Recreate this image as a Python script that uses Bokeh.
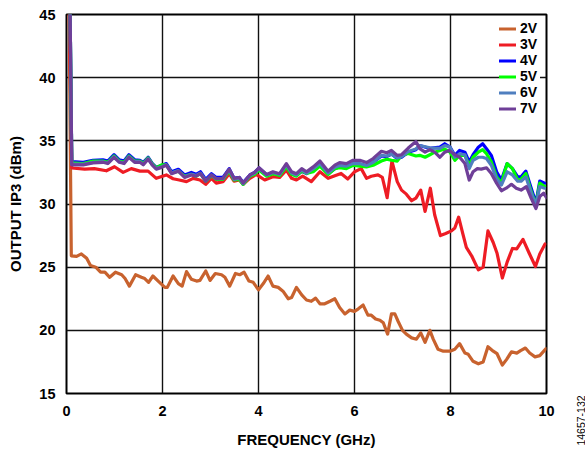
from math import pi
from bokeh.plotting import figure
from bokeh.models import Range1d, FixedTicker, Legend, LegendItem, Label
from bokeh.embed import file_html
from bokeh.resources import INLINE

# ---------------- data ----------------
x_ticks = [0, 2, 4, 6, 8, 10]
y_ticks = [15, 20, 25, 30, 35, 40, 45]
series_names = ["2V", "3V", "4V", "5V", "6V", "7V"]

f_2v = [0.05, 0.1, 0.21, 0.31, 0.42, 0.5, 0.61, 0.71, 0.8, 0.9,
        1.02, 1.15, 1.22, 1.31, 1.44, 1.56, 1.63, 1.71, 1.8, 1.91,
        2.05, 2.1, 2.22, 2.33, 2.41, 2.5, 2.6, 2.71, 2.78, 2.9,
        2.99, 3.1, 3.23, 3.3, 3.4, 3.52, 3.61, 3.7, 3.8, 3.89,
        4.0, 4.1, 4.2, 4.3, 4.41, 4.51, 4.62, 4.69, 4.79, 4.9,
        5.0, 5.1, 5.19, 5.28, 5.38, 5.49, 5.59, 5.69, 5.8, 5.9,
        6.0, 6.08, 6.18, 6.28, 6.35, 6.44, 6.53, 6.6, 6.69, 6.77,
        6.84, 6.91, 7.0, 7.08, 7.19, 7.29, 7.38, 7.47, 7.57, 7.64,
        7.74, 7.85, 7.99, 8.09, 8.19, 8.3, 8.37, 8.47, 8.58, 8.68,
        8.78, 8.89, 8.97, 9.08, 9.17, 9.27, 9.38, 9.46, 9.56, 9.65,
        9.76, 9.86, 9.99]
ip3_2v = [47, 25.9, 25.85, 26.05, 25.7, 25.13, 25.0, 24.6, 24.6, 24.2,
          24.6, 24.4, 24.1, 23.5, 24.4, 24.2, 24.1, 23.8, 24.3, 23.9,
          23.4, 23.4, 24.3, 23.7, 23.5, 24.65, 24.05, 23.9, 23.95, 24.7,
          23.95, 24.5, 24.4, 24.2, 23.5, 24.5, 24.4, 24.6, 23.9, 23.8,
          23.2, 23.7, 24.3, 23.5, 23.4, 23.1, 22.5, 22.6, 23.4, 22.8,
          22.4, 22.3, 22.55, 22.1, 22.1, 22.3, 22.5, 21.8, 21.3, 21.6,
          21.5, 21.7, 22.0, 21.2, 21.2, 20.9, 20.8, 20.6, 19.7, 21.3,
          21.3, 20.7, 20.0, 19.7, 19.4, 19.3, 19.8, 19.05, 20.0, 19.3,
          18.5, 18.35, 18.35, 18.5, 18.95, 18.2, 18.1, 17.55, 17.35, 17.5,
          18.7, 18.35, 18.15, 17.25, 17.7, 18.3, 18.2, 18.4, 18.6, 18.2,
          17.9, 18.0, 18.55]

f_3v = [0.05, 0.11, 0.38, 0.58, 0.83, 1.0, 1.18, 1.35, 1.53, 1.7,
        1.87, 2.08, 2.22, 2.35, 2.5, 2.64, 2.78, 2.9, 3.02, 3.12,
        3.26, 3.39, 3.49, 3.6, 3.68, 3.82, 3.95, 4.13, 4.3, 4.44,
        4.58, 4.69, 4.79, 4.92, 5.1, 5.28, 5.45, 5.59, 5.72, 5.86,
        6.0, 6.14, 6.25, 6.35, 6.49, 6.58, 6.68, 6.78, 6.89, 6.98,
        7.08, 7.19, 7.28, 7.38, 7.47, 7.58, 7.67, 7.79, 7.9, 8.02,
        8.09, 8.17, 8.26, 8.33, 8.44, 8.58, 8.68, 8.78, 8.89, 8.97,
        9.08, 9.18, 9.29, 9.38, 9.51, 9.64, 9.77, 9.86, 9.97]
ip3_3v = [47, 32.85, 32.76, 32.8, 32.63, 32.95, 32.5, 32.8, 32.6, 32.6,
          32.03, 32.3, 32.0, 31.9, 31.77, 32.03, 31.9, 31.56, 32.03, 31.65,
          31.77, 32.4, 31.8, 31.9, 31.56, 32.03, 32.34, 31.9, 32.16, 32.1,
          32.68, 32.03, 31.9, 32.2, 31.77, 32.55, 32.03, 32.24, 32.42, 31.98,
          32.55, 32.8, 32.03, 32.2, 32.3, 32.1, 30.5, 33.4, 31.77, 31.1,
          30.78, 30.26, 30.47, 31.1, 29.41, 31.25, 29.15, 27.5, 27.66, 27.87,
          28.1, 28.96, 27.6, 26.56, 25.9, 24.79, 25.0, 27.87, 26.95, 26.1,
          24.14, 25.4, 26.48, 26.45, 27.2, 26.1, 25.05, 26.04, 26.83]

# shared low-frequency sampling for the 4V..7V traces
f_low = [0.07, 0.11, 0.35, 0.55, 0.76, 0.86, 0.99, 1.1, 1.2, 1.3,
         1.42, 1.53, 1.6, 1.7, 1.79, 1.87, 1.98, 2.08, 2.19, 2.33,
         2.46, 2.6, 2.7, 2.79, 2.9, 3.02, 3.12, 3.26, 3.39, 3.49,
         3.6, 3.68, 3.82, 3.92, 4.01, 4.17, 4.3, 4.44, 4.58, 4.69,
         4.79, 4.9, 5.0, 5.14, 5.28, 5.45, 5.59, 5.69, 5.83, 5.97,
         6.11, 6.25, 6.39, 6.56, 6.67, 6.77, 6.89, 6.98, 7.12, 7.28]

ip3_4v_low = [47, 33.35, 33.3, 33.45, 33.5, 33.4, 33.9, 33.5, 33.4, 33.9,
              33.5, 33.45, 33.3, 33.7, 33.2, 32.9, 33.05, 33.2, 32.55, 32.75,
              32.3, 32.5, 32.35, 32.55, 31.95, 32.4, 32.1, 32.1, 32.8, 32.05,
              32.1, 31.7, 32.3, 32.5, 32.85, 32.3, 32.5, 32.3, 33.0, 32.4,
              32.25, 32.6, 32.4, 32.75, 33.1, 32.4, 32.8, 32.95, 32.9, 33.1,
              33.15, 33.0, 33.3, 33.8, 33.75, 33.95, 33.6, 33.7, 34.1, 34.3]
f_4v_high = [7.36, 7.57, 7.78, 7.88, 7.99, 8.09, 8.19, 8.3, 8.39, 8.47,
             8.58, 8.67, 8.75, 8.85, 8.96, 9.06, 9.18, 9.29, 9.4, 9.47,
             9.57, 9.67, 9.78, 9.86, 9.96]
ip3_4v_high = [34.63, 34.4, 34.5, 34.77, 34.5, 33.85, 34.24, 34.1, 33.33, 33.9,
               34.5, 34.77, 34.38, 33.85, 32.55, 31.9, 33.2, 32.8, 32.15, 32.15,
               32.6, 31.38, 30.08, 31.82, 31.65]

ip3_5v_low = [47, 33.25, 33.2, 33.4, 33.4, 33.3, 33.8, 33.4, 33.3, 33.8,
              33.4, 33.4, 33.2, 33.65, 33.15, 32.85, 33.1, 33.1, 32.45, 32.6,
              32.2, 32.35, 32.2, 32.4, 31.8, 32.25, 31.95, 31.95, 32.6, 31.9,
              31.95, 31.55, 32.2, 32.35, 32.7, 32.2, 32.4, 32.25, 32.95, 32.35,
              32.2, 32.6, 32.42, 32.55, 33.0, 32.34, 32.8, 32.87, 32.8, 33.07,
              33.0, 32.94, 33.07, 33.4, 33.55, 33.46, 33.4, 33.85, 34.0, 33.8]
f_5v_high = [7.36, 7.47, 7.57, 7.67, 7.78, 7.88, 7.99, 8.09, 8.19, 8.3,
             8.39, 8.47, 8.58, 8.67, 8.75, 8.85, 8.96, 9.06, 9.18, 9.29,
             9.4, 9.47, 9.57, 9.67, 9.78, 9.86, 9.96]
ip3_5v_high = [33.85, 33.7, 33.9, 34.1, 34.24, 34.35, 34.1, 33.46, 33.85, 33.85,
               33.07, 33.7, 34.1, 34.3, 33.98, 33.33, 32.15, 31.65, 33.2, 32.8,
               31.9, 31.95, 32.42, 31.12, 29.9, 31.65, 31.38]

ip3_6v_low = [47, 33.15, 33.15, 33.3, 33.35, 33.25, 33.75, 33.35, 33.25, 33.75,
              33.35, 33.35, 33.15, 33.6, 33.1, 32.8, 32.95, 33.1, 32.45, 32.65,
              32.15, 32.35, 32.25, 32.45, 31.85, 32.3, 32.0, 32.0, 32.7, 31.95,
              32.05, 31.6, 32.25, 32.45, 32.8, 32.3, 32.5, 32.35, 33.1, 32.45,
              32.3, 32.7, 32.45, 32.8, 33.2, 32.45, 32.9, 33.05, 33.0, 33.2,
              33.2, 33.05, 33.3, 33.85, 33.8, 33.95, 33.65, 33.75, 34.15, 34.35]
f_6v_high = [7.36, 7.57, 7.78, 7.88, 7.99, 8.09, 8.19, 8.3, 8.39, 8.47,
             8.58, 8.67, 8.75, 8.85, 8.96, 9.06, 9.18, 9.29, 9.4, 9.47,
             9.57, 9.67, 9.78, 9.86, 9.96]
ip3_6v_high = [34.63, 34.45, 34.4, 34.63, 34.5, 33.7, 33.98, 33.9, 32.8, 33.46,
               33.7, 33.7, 33.6, 33.07, 32.0, 31.5, 32.55, 32.3, 31.8, 31.8,
               32.15, 31.0, 29.9, 31.38, 31.25]

ip3_7v_low = [47, 33.1, 33.1, 33.25, 33.3, 33.2, 33.7, 33.3, 33.2, 33.7,
              33.3, 33.3, 33.1, 33.55, 33.07, 32.76, 32.9, 33.07, 32.4, 32.6,
              32.1, 32.3, 32.2, 32.4, 31.8, 32.3, 32.0, 32.03, 32.76, 32.03,
              32.1, 31.65, 32.3, 32.5, 32.87, 32.34, 32.55, 32.4, 33.2, 32.55,
              32.4, 32.8, 32.55, 32.94, 33.4, 32.6, 33.07, 33.28, 33.2, 33.46,
              33.46, 33.28, 33.6, 34.17, 34.06, 34.24, 33.85, 33.9, 34.43, 34.95]
f_7v_high = [7.36, 7.47, 7.57, 7.67, 7.78, 7.88, 7.97, 8.09, 8.19, 8.3,
             8.39, 8.47, 8.56, 8.64, 8.75, 8.85, 8.96, 9.06, 9.16, 9.27,
             9.37, 9.47, 9.58, 9.68, 9.78, 9.86, 9.94, 10.0]
ip3_7v_high = [34.38, 34.1, 34.3, 34.1, 33.7, 34.1, 34.24, 33.9, 33.7, 33.2,
               31.9, 32.55, 32.8, 32.76, 32.87, 32.42, 31.65, 31.05, 31.25, 31.56,
               31.25, 31.1, 31.38, 30.47, 29.64, 30.6, 30.86, 30.5]

colors = ["#c8622e", "#ee1c24", "#0000ff", "#00ff00", "#4f7fbf", "#6f3f98"]
figure_id = "14657-132"

# ---------------- figure ----------------
FONT = "Liberation Sans"
p = figure(width=585, height=450,
           x_range=Range1d(0, 10), y_range=Range1d(15, 45),
           output_backend="svg", toolbar_location=None,
           min_border_left=66, min_border_right=39,
           min_border_top=14, min_border_bottom=52)
p.background_fill_color = "white"
p.border_fill_color = "white"
p.outline_line_color = "black"
p.outline_line_width = 2

p.xaxis.ticker = FixedTicker(ticks=x_ticks)
p.yaxis.ticker = FixedTicker(ticks=y_ticks)
p.xgrid.ticker = FixedTicker(ticks=x_ticks)
p.ygrid.ticker = FixedTicker(ticks=y_ticks)
for g in (p.xgrid, p.ygrid):
    g.grid_line_color = "#111111"
    g.grid_line_width = 1.4
    g.grid_line_alpha = 1.0

for ax in (p.xaxis, p.yaxis):
    ax.axis_line_color = None
    ax.major_tick_line_color = None
    ax.minor_tick_line_color = None
    ax.major_tick_in = 0
    ax.major_tick_out = 0
    ax.minor_tick_out = 0
    ax.major_label_text_font = FONT
    ax.major_label_text_font_style = "bold"
    ax.major_label_text_font_size = "14.5px"
    ax.major_label_text_color = "black"
    ax.axis_label_text_font = FONT
    ax.axis_label_text_font_style = "bold"
    ax.axis_label_text_font_size = "15px"
    ax.axis_label_text_color = "black"

p.xaxis.axis_label = "FREQUENCY (GHz)"
p.yaxis.axis_label = "OUTPUT IP3 (dBm)"
p.xaxis.major_label_standoff = 12
p.yaxis.major_label_standoff = 11
p.xaxis.axis_label_standoff = 12
p.yaxis.axis_label_standoff = 12

xs = [f_2v, f_3v, f_low + f_4v_high, f_low + f_5v_high, f_low + f_6v_high, f_low + f_7v_high]
ys = [ip3_2v, ip3_3v, ip3_4v_low + ip3_4v_high, ip3_5v_low + ip3_5v_high,
      ip3_6v_low + ip3_6v_high, ip3_7v_low + ip3_7v_high]

items = []
for name, xv, yv, c in zip(series_names, xs, ys, colors):
    r = p.line(xv, yv, line_color=c, line_width=3.2, line_join="round", line_cap="round")
    items.append(LegendItem(label=name, renderers=[r]))

legend = Legend(items=items, location="top_right")
legend.background_fill_color = "white"
legend.background_fill_alpha = 1.0
legend.border_line_color = None
legend.margin = 6
legend.padding = 2
legend.spacing = 0
legend.glyph_width = 17
legend.glyph_height = 15
legend.label_height = 15
legend.label_standoff = 4
legend.label_text_font = FONT
legend.label_text_font_style = "bold"
legend.label_text_font_size = "14px"
legend.label_text_line_height = 1.0
legend.label_text_color = "black"
p.add_layout(legend)

tag = Label(x=34, y=-27, x_units="screen", y_units="screen",
            text=figure_id, angle=pi / 2,
            text_align="center", text_baseline="middle",
            text_font=FONT, text_font_size="10.5px", text_color="black")
p.add_layout(tag, "right")

open("out.html", "w").write(file_html(p, INLINE))
